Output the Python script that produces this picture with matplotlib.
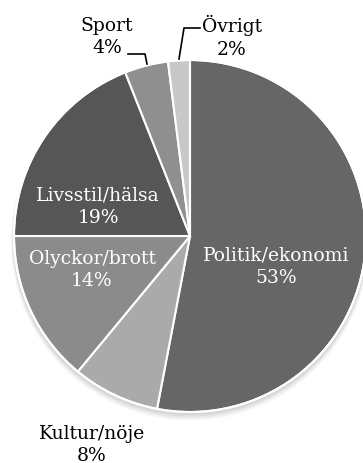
import matplotlib
matplotlib.use("Agg")
import matplotlib.pyplot as plt
from matplotlib.patches import Circle

plt.rcParams["font.family"] = ["DejaVu Serif"]

categories = ["Politik/ekonomi", "Kultur/nöje", "Olyckor/brott", "Livsstil/hälsa", "Sport", "Övrigt"]
shares = [53, 8, 14, 19, 4, 2]
colors = ["#666666", "#aaaaaa", "#8b8b8b", "#565656", "#8f8f8f", "#c8c8c8"]

W, H = 363, 464
fig = plt.figure(figsize=(W / 100, H / 100), dpi=100)
ax = fig.add_axes([0, 0, 1, 1])

cx, cy, r = 190, H - 237, 176

# soft shadow under the pie
for i, a in enumerate([0.04, 0.04, 0.035, 0.03, 0.02]):
    ax.add_patch(Circle((cx, cy - 2 - i), r + 1 + i * 0.5, color="black", alpha=a, lw=0, zorder=0))

wedges, _ = ax.pie(shares, colors=colors, startangle=90, counterclock=False,
                   center=(cx, cy), radius=r, frame=True,
                   wedgeprops=dict(edgecolor="white", linewidth=1.5))
ax.set_xlim(0, W)
ax.set_ylim(0, H)
ax.set_aspect("equal")
ax.axis("off")
ax.add_patch(Circle((cx, cy), r, fill=False, ec="white", lw=1.5, zorder=5))

# label positions (pixels from top-left)
label_pos = {
    "Politik/ekonomi": (276, 267, "white"),
    "Kultur/nöje": (92, 445, "black"),
    "Olyckor/brott": (92, 270, "white"),
    "Livsstil/hälsa": (98, 207, "white"),
    "Sport": (107, 37, "black"),
    "Övrigt": (232, 37, "black"),
}
for name, val in zip(categories, shares):
    x, y, c = label_pos[name]
    ax.text(x, H - y, f"{name}\n{val}%", ha="center", va="center", color=c,
            fontsize=13.5, linespacing=1.35, zorder=6)

# leader lines for the thin slices
ax.plot([128, 145, 147], [H - 55, H - 55, H - 65], color="black", lw=1.2, zorder=6)
ax.plot([200, 184, 179], [H - 29, H - 29, H - 60], color="black", lw=1.2, zorder=6)

fig.savefig("out.png", dpi=100)
